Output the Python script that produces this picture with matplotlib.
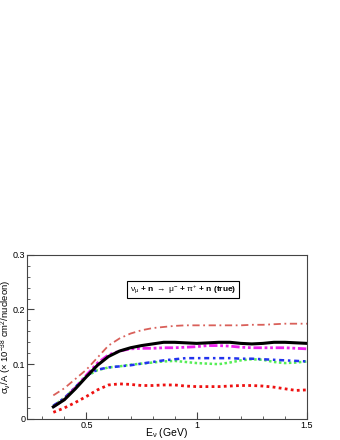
import numpy as np
import matplotlib
matplotlib.use("Agg")
import matplotlib.pyplot as plt
from matplotlib.ticker import MultipleLocator

plt.rcParams['font.family'] = ['Liberation Sans', 'DejaVu Sans']
plt.rcParams['mathtext.fontset'] = 'custom'
plt.rcParams['mathtext.rm'] = 'Liberation Sans'
plt.rcParams['mathtext.it'] = 'Liberation Sans'

# ===== Data =====
energy = [0.35, 0.40, 0.45, 0.50, 0.55, 0.60, 0.65, 0.70, 0.75, 0.80, 0.85,
          0.90, 0.95, 1.00, 1.05, 1.10, 1.15, 1.20, 1.25, 1.30, 1.35, 1.40,
          1.45, 1.50]

xs_black = [0.022, 0.035, 0.055, 0.077, 0.098, 0.114, 0.124, 0.130, 0.134,
            0.137, 0.140, 0.140, 0.139, 0.138, 0.139, 0.140, 0.140, 0.138,
            0.137, 0.138, 0.140, 0.140, 0.139, 0.138]
xs_brown = [0.043, 0.056, 0.073, 0.090, 0.112, 0.134, 0.147, 0.156, 0.162,
            0.166, 0.168, 0.170, 0.171, 0.171, 0.171, 0.171, 0.171, 0.171,
            0.172, 0.172, 0.173, 0.174, 0.174, 0.174]
xs_magenta = [0.022, 0.036, 0.057, 0.080, 0.102, 0.117, 0.124, 0.128, 0.129,
              0.129, 0.130, 0.130, 0.131, 0.132, 0.134, 0.134, 0.133, 0.131,
              0.130, 0.130, 0.130, 0.130, 0.129, 0.128]
xs_blue = [0.024, 0.038, 0.058, 0.079, 0.090, 0.094, 0.096, 0.098, 0.101,
           0.104, 0.107, 0.109, 0.111, 0.111, 0.111, 0.111, 0.111, 0.110,
           0.110, 0.109, 0.108, 0.107, 0.106, 0.105]
xs_green = [0.024, 0.038, 0.058, 0.078, 0.089, 0.094, 0.096, 0.099, 0.101,
            0.103, 0.105, 0.106, 0.104, 0.102, 0.101, 0.100, 0.103, 0.107,
            0.109, 0.108, 0.104, 0.102, 0.103, 0.105]
xs_red = [0.012, 0.020, 0.030, 0.041, 0.053, 0.062, 0.064, 0.063, 0.061,
          0.061, 0.062, 0.062, 0.060, 0.059, 0.059, 0.059, 0.060, 0.061,
          0.061, 0.060, 0.058, 0.055, 0.052, 0.053]

# ===== Figure =====
fig = plt.figure(figsize=(3.4, 4.4), dpi=100)
ax = fig.add_axes([0.079, 0.048, 0.824, 0.373])

ax.plot(energy, xs_brown, color="#d9605a", lw=1.3, ls=(0, (4, 2, 1, 2)))
ax.plot(energy, xs_green, color="#55ee55", lw=1.8, ls=(0, (1, 1)))
ax.plot(energy, xs_blue, color="#2233ee", lw=1.8, ls=(0, (2, 1.5, 1, 1.5)))
ax.plot(energy, xs_magenta, color="#ee22ee", lw=2.0, ls=(0, (3, 1, 1, 1, 1, 1)))
ax.plot(energy, xs_black, color="black", lw=2.2, ls="-")
ax.plot(energy, xs_red, color="#ee1111", lw=2.0, ls=(0, (1, 1.2)))

ax.set_xlim(0.23, 1.5)
ax.set_ylim(0, 0.3)
ax.xaxis.set_minor_locator(MultipleLocator(0.1))
ax.yaxis.set_minor_locator(MultipleLocator(0.02))
ax.set_xticks([0.5, 1.0, 1.5])
ax.set_xticklabels(["0.5", "1", "1.5"])
ax.set_yticks([0, 0.1, 0.2, 0.3])
ax.set_yticklabels(["0", "0.1", "0.2", "0.3"])
ax.tick_params(which="both", direction="in", labelsize=6.5, color="#444444",
               top=False, right=False)
ax.tick_params(axis="x", pad=1.5)
ax.tick_params(axis="y", pad=1)
ax.tick_params(which="major", length=5)
ax.tick_params(which="minor", length=2.5)
for sp in ax.spines.values():
    sp.set_color("#444444")
    sp.set_linewidth(0.8)

ax.set_xlabel(r"E$_{\nu}$ (GeV)", fontsize=7.5)
ax.xaxis.set_label_coords(0.5, -0.085)
ax.xaxis.label.set_va("center")
ax.set_ylabel(r"$\sigma_{\nu}$/A ($\times$ 10$^{-38}$ cm$^{2}$/nucleon)",
              fontsize=6.8)
ax.yaxis.set_label_coords(-0.074, 0.5)
ax.yaxis.label.set_va("center")

ax.text(0.557, 0.787,
        r"$\nu_{\mu}$ + n $\rightarrow$ $\mu^{-}$ + $\pi^{+}$ + n (true)",
        transform=ax.transAxes, ha="center", va="center", fontsize=6,
        fontweight="bold",
        bbox=dict(boxstyle="square,pad=0.3", fc="white", ec="black", lw=0.8))

fig.savefig("out.png", dpi=100)
